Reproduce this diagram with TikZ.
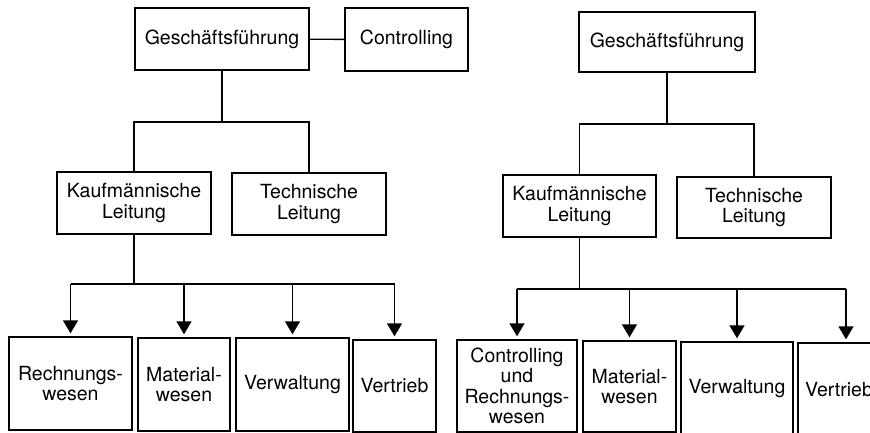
\documentclass[tikz,border=0pt]{standalone}
\usepackage{fontspec}
\setmainfont{TeX Gyre Heros}
\usetikzlibrary{arrows.meta}

\tikzset{
    orgbox/.style={draw, line width=1.4pt, inner sep=0pt, align=center,
        font=\fontsize{19.5}{20.5}\selectfont},
    link/.style={line width=1.4pt},
    down/.style={line width=1.4pt, -{Triangle[width=15pt,length=13pt]}, shorten >=3pt}
}

\begin{document}
\begin{tikzpicture}[x=1pt,y=-1pt]
    \useasboundingbox (0,0) rectangle (870,433);
    \clip (0,0) rectangle (870,433);

    % Chart 1: Controlling as staff position
    \node[orgbox, minimum width=174, minimum height=62] (gfL) at (222,39) {Geschäftsführung};
    \node[orgbox, minimum width=123, minimum height=63] (ctrlL) at (406.5,39.5) {Controlling};
    \node[orgbox, minimum width=154, minimum height=62] (kfmL) at (134,203) {Kaufmännische\\Leitung};
    \node[orgbox, minimum width=154, minimum height=62] (techL) at (309,204) {Technische\\Leitung};
    \node[orgbox, minimum width=123, minimum height=93] (rwL) at (70.5,383.5) {Rechnungs-\\wesen};
    \node[orgbox, minimum width=92, minimum height=93] (mwL) at (184,384.5) {Material-\\wesen};
    \node[orgbox, minimum width=113, minimum height=93] (vwL) at (292.5,384.5) {Verwaltung};
    \node[orgbox, minimum width=83, minimum height=92] (vtL) at (394.5,386) {Vertrieb};

    \coordinate (topL) at (222,122);
    \coordinate (botL) at (134,284);

    \draw[link] (gfL) -- (ctrlL);
    \draw[link] (gfL.south) -- (topL);
    \draw[link] (kfmL.north) |- (topL) -| (techL.north);
    \draw[link] (kfmL.south) -- (botL);
    \draw[link] (rwL.north |- botL) -- (vtL.north |- botL);
    \foreach \b in {rwL,mwL,vwL,vtL}
        \draw[down] (\b.north |- botL) -- (\b.north);

    % Chart 2: Controlling within the commercial division
    \node[orgbox, minimum width=176, minimum height=60] (gfR) at (667,42) {Geschäftsführung};
    \node[orgbox, minimum width=153, minimum height=62] (kfmR) at (579.5,206) {Kaufmännische\\Leitung};
    \node[orgbox, minimum width=154, minimum height=61] (techR) at (754,207.5) {Technische\\Leitung};
    \node[orgbox, minimum width=120, minimum height=92] (crR) at (517,386) {Controlling\\und\\Rechnungs-\\wesen};
    \node[orgbox, minimum width=93, minimum height=91] (mwR) at (629.5,386.5) {Material-\\wesen};
    \node[orgbox, minimum width=112, minimum height=94] (vwR) at (737,389) {Verwaltung};
    \node[orgbox, minimum width=82, minimum height=94] (vtR) at (839,390) {Vertrieb};

    \coordinate (topR) at (667,124);
    \coordinate (botR) at (579.5,289);
    \coordinate (endR) at (846,289);

    \draw[link] (gfR.south) -- (topR);
    \draw[link] (kfmR.north) |- (topR) -| (techR.north);
    \draw[link] (kfmR.south) -- (botR);
    \draw[link] (crR.north |- botR) -- (endR);
    \foreach \b in {crR,mwR,vwR}
        \draw[down] (\b.north |- botR) -- (\b.north);
    \draw[down] (endR) -- (vtR.north -| endR);
\end{tikzpicture}
\end{document}
